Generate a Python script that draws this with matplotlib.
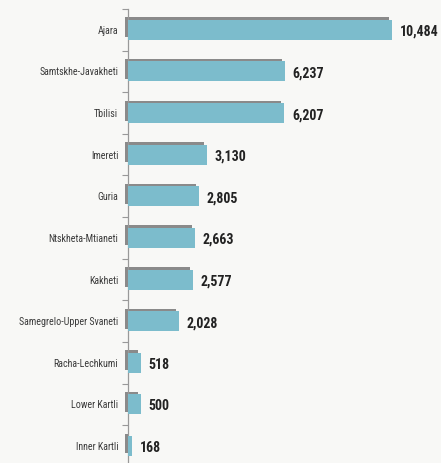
import matplotlib
matplotlib.use("Agg")
import matplotlib.pyplot as plt
import matplotlib.transforms as mtrans
from matplotlib import font_manager as fm

regions = ["Ajara", "Samtskhe-Javakheti", "Tbilisi", "Imereti", "Guria",
           "Ntskheta-Mtianeti", "Kakheti", "Samegrelo-Upper Svaneti",
           "Racha-Lechkumi", "Lower Kartli", "Inner Kartli"]
values = [10484, 6237, 6207, 3130, 2805, 2663, 2577, 2028, 518, 500, 168]

names = {f.name for f in fm.fontManager.ttflist}
narrow_fp = None
for cand in ["Liberation Sans Narrow", "Roboto Condensed", "Open Sans Condensed"]:
    if cand in names:
        narrow_fp = dict(family=cand)
        break
if narrow_fp is None:
    f = fm.findfont(fm.FontProperties(family="DejaVu Sans", stretch="condensed"))
    if "Condensed" in f:
        narrow_fp = dict(family="DejaVu Sans", stretch="condensed")
    else:
        narrow_fp = dict(family="DejaVu Sans")

W, H = 441, 463
fig = plt.figure(figsize=(W / 100, H / 100), dpi=100)
bg = "#f8f8f6"
fig.patch.set_facecolor(bg)

ax_left, ax_top = 128, 9
ax = fig.add_axes([ax_left / W, 0, (W - ax_left) / W, (H - ax_top) / H])
ax.set_facecolor(bg)

ypos = list(range(len(regions)))
shadow_off = mtrans.ScaledTranslation(-3 / 100, 2.5 / 100, fig.dpi_scale_trans)
shadow = ax.barh(ypos, values, height=0.48, color="#8a8a8a", zorder=2)
for p in shadow:
    p.set_transform(ax.transData + shadow_off)
    p.set_clip_on(False)
ax.barh(ypos, values, height=0.48, color="#7cbccc", zorder=3)

for y, v in zip(ypos, values):
    ax.annotate(f"{v:,}", (v, y), xytext=(5.5, -1.5), textcoords="offset points",
                ha="left", va="center", fontsize=10, fontweight="bold",
                color="#222222", **narrow_fp)

ax.set_xlim(0, 12430)
ax.set_ylim(10 + 17 / 41.6, -0.5)

ax.set_yticks(ypos)
ax.set_yticklabels(regions, fontsize=7.2, color="#3a3a3a", **narrow_fp)
ax.tick_params(axis="y", which="major", length=0, pad=7)
ax.set_yticks([i + 0.5 for i in range(-1, len(regions) - 1)], minor=True)
ax.tick_params(axis="y", which="minor", length=4, width=0.8, color="#999999")
ax.set_xticks([])

for s in ["top", "right", "bottom"]:
    ax.spines[s].set_visible(False)
ax.spines["left"].set_color("#999999")
ax.spines["left"].set_linewidth(0.9)

fig.savefig("out.png", dpi=100, facecolor=bg)
